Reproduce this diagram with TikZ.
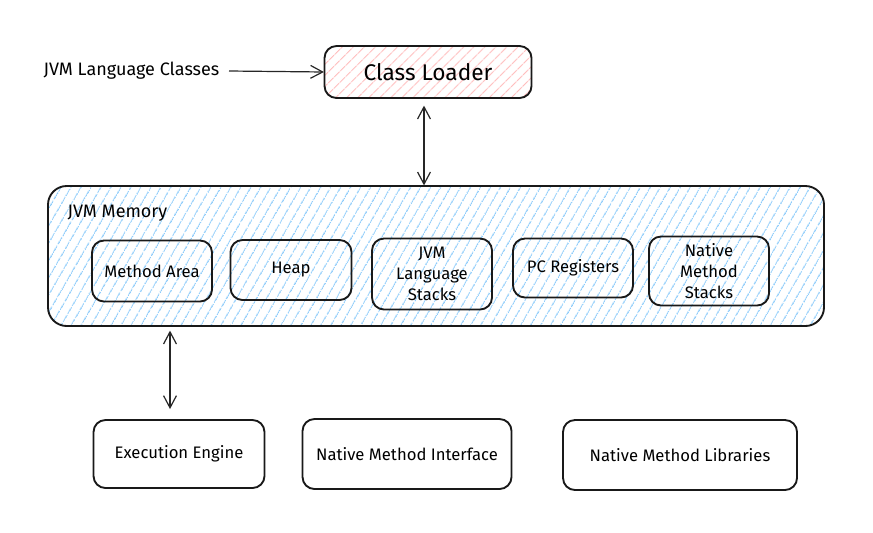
\documentclass[tikz,border=0pt]{standalone}
\usepackage{fontspec}
\setmainfont{Fira Sans}
\usetikzlibrary{arrows.meta,patterns.meta}
\definecolor{hatchred}{HTML}{FFB8B8}
\definecolor{hatchblue}{HTML}{8CCBFA}
\tikzset{
  >={Straight Barb[length=3.2mm,width=3.4mm]},
  blk/.style={draw=black!90,line width=1.4pt,rounded corners=9pt,
    align=center,inner sep=2pt,font=\fontsize{12.5}{15.5}\selectfont},
  loaderblk/.style={blk,pattern={Lines[angle=45,distance=6.5pt,line width=0.9pt]},
    pattern color=hatchred,font=\fontsize{17}{20}\selectfont},
  memblk/.style={blk,rounded corners=14pt,
    pattern={Lines[angle=60,distance=6.5pt,line width=0.9pt]},pattern color=hatchblue},
  flow/.style={line width=0.9pt,black!85},
  lbl/.style={font=\fontsize{13.5}{16}\selectfont,inner sep=1pt},
}
\begin{document}
\begin{tikzpicture}[x=0.75pt,y=-0.75pt]
  \useasboundingbox (0,0) rectangle (873,532);
  % loader and input
  \node[loaderblk,minimum width=207*0.75pt,minimum height=52*0.75pt] (loader) at (428,72) {Class Loader};
  \node[lbl,anchor=west] (input) at (42,71) {JVM Language Classes};
  % runtime memory
  \node[memblk,minimum width=776*0.75pt,minimum height=140*0.75pt] (mem) at (436,256) {};
  \node[lbl,anchor=west] (memlbl) at (66,213) {JVM Memory};
  \node[blk,minimum width=120*0.75pt,minimum height=61*0.75pt] (marea) at (152,271) {Method Area};
  \node[blk,minimum width=121*0.75pt,minimum height=60*0.75pt] (heap) at (291,270) {Heap};
  \node[blk,minimum width=120*0.75pt,minimum height=71*0.75pt] (jstack) at (432,274) {JVM\\Language\\Stacks};
  \node[blk,minimum width=120*0.75pt,minimum height=59*0.75pt] (pcreg) at (573,268) {PC Registers};
  \node[blk,minimum width=120*0.75pt,minimum height=69*0.75pt] (nstack) at (709,271) {Native\\Method\\Stacks};
  % bottom row
  \node[blk,minimum width=171*0.75pt,minimum height=68*0.75pt] (engine) at (179,454) {Execution Engine};
  \node[blk,minimum width=209*0.75pt,minimum height=70*0.75pt] (nif) at (407,454) {Native Method Interface};
  \node[blk,minimum width=234*0.75pt,minimum height=70*0.75pt] (nlib) at (680,455) {Native Method Libraries};
  % connectors
  \coordinate (inend) at (229,71);
  \draw[flow,->] (inend) -- (loader.west);
  \draw[flow,<->] ([xshift=-4*0.75pt,yshift=-7*0.75pt]loader.south) -- ([xshift=-12*0.75pt]mem.north);
  \draw[flow,<->] ([xshift=-266*0.75pt,yshift=-4*0.75pt]mem.south) -- ([yshift=10*0.75pt,xshift=-9*0.75pt]engine.north);
\end{tikzpicture}
\end{document}
